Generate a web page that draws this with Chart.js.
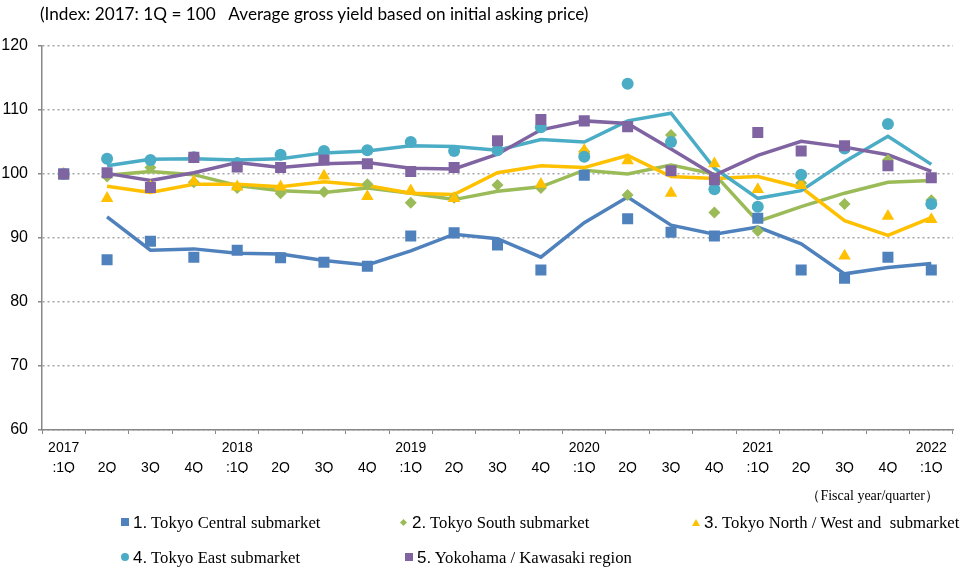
<!DOCTYPE html>
<html>
<head>
<meta charset="utf-8">
<script src="https://cdn.jsdelivr.net/npm/chart.js@4.4.0/dist/chart.umd.min.js"></script>
<style>
  body { margin: 0; background: #fff; }
  #wrap { position: relative; width: 967px; height: 573px; }
  #title { position: absolute; left: 40px; top: 3px; font: 17.2px Lato, sans-serif; color: #000; white-space: pre; }
  #unit { position: absolute; right: 28px; top: 487px; font: 14px "Liberation Serif", serif; color: #000; }
  .item { position: absolute; font: 16.7px "Liberation Serif", serif; color: #000; white-space: pre; line-height: 20px; }
  .item .num { font: 17px "Liberation Sans", Arial, sans-serif; }
  .mk { display: inline-block; vertical-align: middle; margin-right: 4px; position: relative; top: -2px; }
</style>
</head>
<body>
<div id="wrap">
  <canvas id="myChart" width="967" height="573"></canvas>
  <div id="title">(Index: 2017: 1Q = 100   Average gross yield based on initial asking price)</div>
  <div id="unit">（Fiscal year/quarter）</div>
  <div id="legend"></div>
</div>
<script>
// categories (fiscal year / quarter)
var labels = [
    ['2017', ':1Q'], ['', '2Q'], ['', '3Q'], ['', '4Q'],
    ['2018', ':1Q'], ['', '2Q'], ['', '3Q'], ['', '4Q'],
    ['2019', ':1Q'], ['', '2Q'], ['', '3Q'], ['', '4Q'],
    ['2020', ':1Q'], ['', '2Q'], ['', '3Q'], ['', '4Q'],
    ['2021', ':1Q'], ['', '2Q'], ['', '3Q'], ['', '4Q'],
    ['2022', ':1Q']
];

var seriesNames = [
    '1. Tokyo Central submarket',
    '2. Tokyo South submarket',
    '3. Tokyo North / West and  submarket',
    '4. Tokyo East submarket',
    '5. Yokohama / Kawasaki region'
];

// quarterly index values (markers)
var central = [100, 86.6, 89.5, 87.0, 88.1, 86.9, 86.2, 85.6, 90.3, 90.8, 88.9, 85.0, 99.8, 93.0, 90.9, 90.3, 93.1, 85.0, 83.7, 87.0, 85.0];
var south = [100, 99.6, 101.0, 98.7, 97.8, 97.0, 97.2, 98.4, 95.5, 96.3, 98.3, 97.8, 103.5, 96.7, 106.1, 94.0, 91.1, 98.6, 95.3, 102.2, 95.9];
var northWest = [100, 96.2, 98.0, 98.8, 98.0, 98.0, 99.7, 96.5, 97.4, 96.2, 104.2, 98.4, 103.7, 102.1, 97.0, 101.6, 97.6, 98.2, 87.2, 93.4, 92.9];
var east = [100, 102.4, 102.2, 102.6, 101.7, 103.0, 103.6, 103.7, 105.0, 103.6, 103.7, 107.3, 102.7, 114.1, 105.0, 97.6, 94.9, 99.9, 104.0, 107.8, 95.3];
var yokohama = [100, 100.2, 97.9, 102.6, 101.1, 101.0, 102.2, 101.6, 100.4, 101.0, 105.2, 108.5, 108.3, 107.4, 100.5, 99.1, 106.5, 103.6, 104.4, 101.3, 99.4];

// trend lines
var centralLine = [null, 93.3, 88.1, 88.3, 87.6, 87.5, 86.5, 85.8, 88.0, 90.6, 89.9, 87.0, 92.4, 96.4, 92.0, 90.6, 91.7, 89.1, 84.4, 85.4, 86.0];
var southLine = [null, 99.8, 100.4, 99.9, 98.2, 97.4, 97.1, 97.8, 97.0, 96.0, 97.3, 98.0, 100.6, 100.0, 101.4, 100.0, 92.6, 94.9, 97.0, 98.7, 99.0];
var northWestLine = [null, 98.1, 97.1, 98.4, 98.4, 98.0, 98.8, 98.2, 97.0, 96.8, 100.2, 101.3, 101.0, 102.9, 99.6, 99.3, 99.6, 97.9, 92.7, 90.4, 93.2];
var eastLine = [null, 101.3, 102.3, 102.4, 102.2, 102.4, 103.3, 103.6, 104.4, 104.3, 103.7, 105.4, 105.0, 108.3, 109.5, 100.9, 96.2, 97.4, 101.9, 105.9, 101.5];
var yokohamaLine = [null, 100.1, 99.0, 100.2, 101.8, 101.0, 101.6, 101.8, 100.9, 100.8, 103.1, 106.9, 108.3, 107.9, 103.9, 99.8, 102.9, 105.1, 104.2, 103.0, 100.4];

var yTicks = [60, 70, 80, 90, 100, 110, 120];

var colors = ['#4F81BD', '#9BBB59', '#FFC000', '#4BACC6', '#8064A2'];
var shapes = ['rect', 'rectRot', 'triangle', 'circle', 'rect'];
var radius = [7.8, 6, 7.2, 6, 7.8];

var points = [central, south, northWest, east, yokohama];
var lines = [centralLine, southLine, northWestLine, eastLine, yokohamaLine];

var datasets = [];
for (var i = 0; i < 5; i++) {
    datasets.push({
        label: seriesNames[i],
        data: points[i],
        showLine: false,
        pointStyle: shapes[i],
        pointRadius: radius[i],
        pointHoverRadius: radius[i],
        pointBackgroundColor: colors[i],
        pointBorderWidth: 0,
        borderColor: colors[i],
        order: 4 - i
    });
}
for (var i = 0; i < 5; i++) {
    datasets.push({
        label: seriesNames[i] + ' line',
        data: lines[i],
        borderColor: colors[i],
        borderWidth: 3.5,
        pointRadius: 0,
        tension: 0,
        order: 10 - i
    });
}

var ctx = document.getElementById('myChart').getContext('2d');
var myChart = new Chart(ctx, {
    type: 'line',
    data: {
        labels: labels,
        datasets: datasets
    },
    options: {
        responsive: false,
        animation: false,
        layout: { padding: { top: 46, right: 14, bottom: 100, left: 0 } },
        plugins: {
            legend: { display: false },
            tooltip: { enabled: false }
        },
        scales: {
            x: {
                offset: true,
                afterFit: function (scale) { scale.height = 43; },
                grid: {
                    offset: true,
                    drawOnChartArea: false,
                    tickLength: 4,
                    tickColor: '#888'
                },
                border: { color: '#888', width: 1.5 },
                ticks: {
                    color: '#000',
                    padding: 4,
                    maxRotation: 0,
                    autoSkip: false,
                    font: { family: '"Liberation Sans", Arial, sans-serif', size: 14, lineHeight: 1.43 }
                }
            },
            y: {
                min: 60,
                max: 120,
                afterFit: function (scale) { scale.width = 42; },
                afterBuildTicks: function (scale) {
                    scale.ticks = yTicks.map(function (v) { return { value: v }; });
                },
                grid: {
                    color: '#a6a6a6',
                    lineWidth: 1.5,
                    tickLength: 4,
                    tickColor: '#888'
                },
                border: { color: '#888', width: 1.5, dash: [2, 3] },
                ticks: {
                    color: '#000',
                    padding: 10,
                    font: { family: '"Liberation Sans", Arial, sans-serif', size: 16 }
                }
            }
        }
    }
});

// legend laid out like the original (two rows)
var legendPos = [[121, 513], [400, 513], [692, 513], [121, 548], [405, 548]];
var legend = document.getElementById('legend');
seriesNames.forEach(function (name, i) {
    var item = document.createElement('div');
    item.className = 'item';
    item.style.left = legendPos[i][0] + 'px';
    item.style.top = legendPos[i][1] + 'px';
    var mk = document.createElement('span');
    mk.className = 'mk';
    var c = colors[i];
    if (shapes[i] === 'rect') {
        mk.style.cssText += 'width:8px;height:8px;background:' + c + ';';
    } else if (shapes[i] === 'rectRot') {
        mk.style.cssText += 'width:5px;height:5px;background:' + c + ';transform:rotate(45deg);margin-left:1px;margin-right:6px;';
    } else if (shapes[i] === 'triangle') {
        mk.style.cssText += 'width:0;height:0;border-left:4px solid transparent;border-right:4px solid transparent;border-bottom:7px solid ' + c + ';';
    } else {
        mk.style.cssText += 'width:8px;height:8px;border-radius:50%;background:' + c + ';';
    }
    item.appendChild(mk);
    var dot = name.indexOf('. ');
    var num = document.createElement('span');
    num.className = 'num';
    num.textContent = name.slice(0, dot + 1);
    item.appendChild(num);
    item.appendChild(document.createTextNode(' ' + name.slice(dot + 2)));
    legend.appendChild(item);
});
</script>
</body>
</html>
